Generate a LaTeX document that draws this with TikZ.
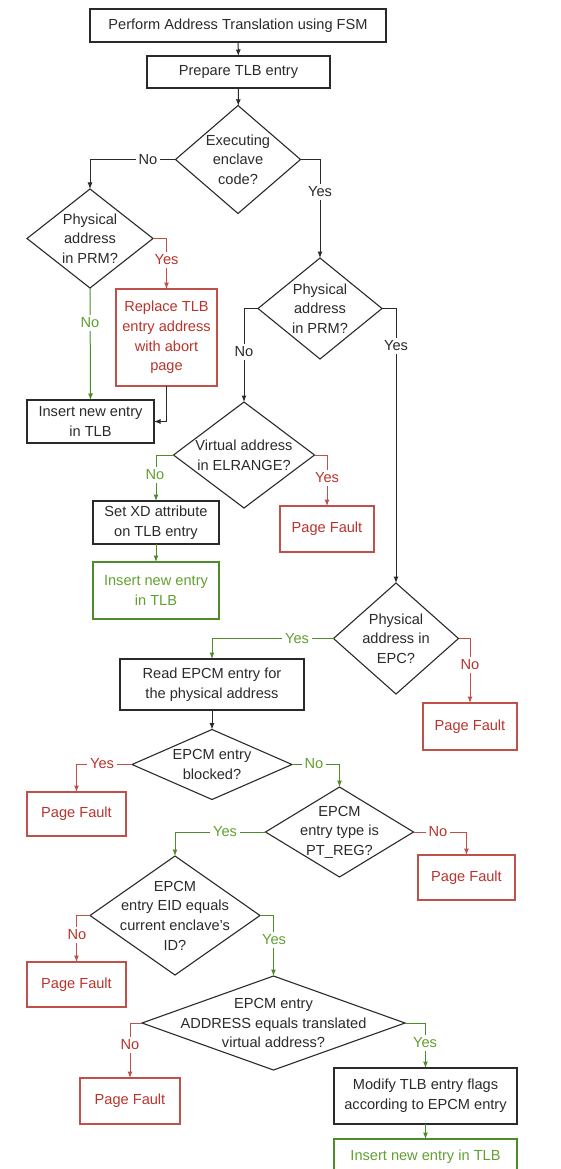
\documentclass[tikz,border=0pt]{standalone}
\usepackage{fontspec}
\setmainfont{Liberation Sans}
\usetikzlibrary{arrows.meta,shapes.geometric}
\definecolor{ink}{HTML}{2A2A2A}
\definecolor{redline}{HTML}{C0504A}
\definecolor{redtext}{HTML}{B8342C}
\definecolor{greenline}{HTML}{4E8C2A}
\definecolor{greentext}{HTML}{62A030}
\tikzset{
  every node/.style={font=\fontsize{14.6}{19.6}\selectfont, outer sep=0pt},
  box/.style={draw=ink, line width=1.1pt, rectangle, inner sep=0pt, align=center, text=ink},
  redbox/.style={box, draw=redline, text=redtext},
  greenbox/.style={box, draw=greenline, text=greentext},
  dia/.style={draw=ink, line width=1.1pt, diamond, inner sep=0pt},
  diatext/.style={align=center, text=ink, inner sep=0pt},
  conn/.style={line width=1pt, -{Latex[length=6.5pt,width=5pt]}},
  blk/.style={conn, draw=ink},
  rd/.style={conn, draw=redline},
  gr/.style={conn, draw=greenline},
  lab/.style={fill=white, inner sep=3pt, text=ink},
  rlab/.style={lab, text=redtext},
  glab/.style={lab, text=greentext},
}
\begin{document}
\begin{tikzpicture}[x=1pt,y=-1pt]
\useasboundingbox (0,0) rectangle (560,1169);
\clip (0,0) rectangle (560,1169);

% ---- process boxes ----
\node[box, minimum width=296pt, minimum height=33pt] (b1) at (238,25.5) {Perform Address Translation using FSM};
\node[box, minimum width=183pt, minimum height=32pt] (b2) at (238.5,72) {Prepare TLB entry};
\node[redbox, minimum width=101pt, minimum height=97pt] (rep) at (166.5,337.5) {Replace TLB\\entry address\\with abort\\page};
\node[box, minimum width=127pt, minimum height=43pt] (ins1) at (90.5,421.5) {Insert new entry\\in TLB};
\node[box, minimum width=126pt, minimum height=43pt] (setxd) at (156,522.5) {Set XD attribute\\on TLB entry};
\node[greenbox, minimum width=126pt, minimum height=57pt] (ins2) at (156,590.5) {Insert new entry\\in TLB};
\node[redbox, minimum width=94pt, minimum height=46pt] (pf1) at (327,529) {Page Fault};
\node[box, minimum width=184pt, minimum height=51pt] (read) at (212,684.5) {Read EPCM entry for\\the physical address};
\node[redbox, minimum width=94pt, minimum height=47pt] (pf2) at (470,726.5) {Page Fault};
\node[redbox, minimum width=99pt, minimum height=44pt] (pf3) at (76.5,814) {Page Fault};
\node[redbox, minimum width=97pt, minimum height=45pt] (pf4) at (466.5,877.5) {Page Fault};
\node[redbox, minimum width=99pt, minimum height=45pt] (pf5) at (76.5,984.5) {Page Fault};
\node[redbox, minimum width=100pt, minimum height=46pt] (pf6) at (130,1101) {Page Fault};
\node[box, minimum width=183pt, minimum height=56pt] (mod) at (425.5,1096) {Modify TLB entry flags\\according to EPCM entry};
\node[greenbox, minimum width=183pt, minimum height=36pt] (ins3) at (425.5,1157) {Insert new entry in TLB};

% ---- decisions ----
\node[dia, minimum width=125pt, minimum height=108pt] (d1) at (238,159.5) {};
\node[diatext] (d1t) at (d1.center) {Executing\\enclave\\code?};
\node[dia, minimum width=126pt, minimum height=99pt] (d2) at (90,238.5) {};
\node[diatext] (d2t) at (d2.center) {Physical\\address\\in PRM?};
\node[dia, minimum width=124pt, minimum height=101pt] (d3) at (320,308.5) {};
\node[diatext] (d3t) at (d3.center) {Physical\\address\\in PRM?};
\node[dia, minimum width=141pt, minimum height=106pt] (d4) at (244,455) {};
\node[diatext] (d4t) at (d4.center) {Virtual address\\in ELRANGE?};
\node[dia, minimum width=125pt, minimum height=111pt] (d5) at (396,638.5) {};
\node[diatext] (d5t) at (d5.center) {Physical\\address in\\EPC?};
\node[dia, minimum width=160pt, minimum height=70pt] (d6) at (212,764.5) {};
\node[diatext] (d6t) at (d6.center) {EPCM entry\\blocked?};
\node[dia, minimum width=148pt, minimum height=90pt] (d7) at (339.5,832) {};
\node[diatext] (d7t) at (d7.center) {EPCM\\entry type is\\PT\_REG?};
\node[dia, minimum width=170pt, minimum height=119pt] (d8) at (175,915.5) {};
\node[diatext] (d8t) at (d8.center) {EPCM\\entry EID equals\\current enclave's\\ID?};
\node[dia, minimum width=263pt, minimum height=94pt] (d9) at (273.5,1023) {};
\node[diatext] (d9t) at (d9.center) {EPCM entry\\ADDRESS equals translated\\virtual address?};

% ---- connectors ----
\draw[blk] (b1) -- (b2);
\draw[blk] (b2) -- (d1);
\draw[blk] (d1.west) -| (d2.north);
\draw[blk] (d1.east) -| (d3.north);
\draw[rd] (d2.east) -| (rep.north);
\draw[gr] (d2.south) -- (ins1.north);
\draw[blk] (rep.south) |- (ins1.east);
\draw[blk] (d3.west) -| (d4.north);
\draw[blk] (d3.east) -| (d5.north);
\draw[gr] (d4.west) -| (setxd.north);
\draw[gr] (setxd.south) -- (ins2.north);
\draw[rd] (d4.east) -| (pf1.north);
\draw[gr] (d5.west) -| (read.north);
\draw[rd] (d5.east) -| (pf2.north);
\draw[blk] (read.south) -- (d6.north);
\draw[rd] (d6.west) -| (pf3.north);
\draw[gr] (d6.east) -| (d7.north);
\draw[rd] (d7.east) -| (pf4.north);
\draw[gr] (d7.west) -| (d8.north);
\draw[rd] (d8.west) -| (pf5.north);
\draw[gr] (d8.east) -| (d9.north);
\draw[rd] (d9.west) -| (pf6.north);
\draw[gr] (d9.east) -| (mod.north);
\draw[gr] (mod.south) -- (ins3.north);

% ---- branch labels ----
\node[lab]  (l1)  at (148,160)  {No};
\node[lab]  (l2)  at (320,192)  {Yes};
\node[rlab] (l3)  at (166.5,260) {Yes};
\node[glab] (l4)  at (90,323)   {No};
\node[lab]  (l5)  at (244,352)  {No};
\node[lab]  (l6)  at (396,346)  {Yes};
\node[glab] (l7)  at (155,475)  {No};
\node[rlab] (l8)  at (327,478)  {Yes};
\node[glab] (l9)  at (297,639)  {Yes};
\node[rlab] (l10) at (470,665)  {No};
\node[rlab] (l11) at (102,764)  {Yes};
\node[glab] (l12) at (314,764)  {No};
\node[rlab] (l13) at (438,832)  {No};
\node[glab] (l14) at (225,832)  {Yes};
\node[rlab] (l15) at (77,935)   {No};
\node[glab] (l16) at (274,940)  {Yes};
\node[rlab] (l17) at (130,1045) {No};
\node[glab] (l18) at (425,1043) {Yes};
\end{tikzpicture}
\end{document}
